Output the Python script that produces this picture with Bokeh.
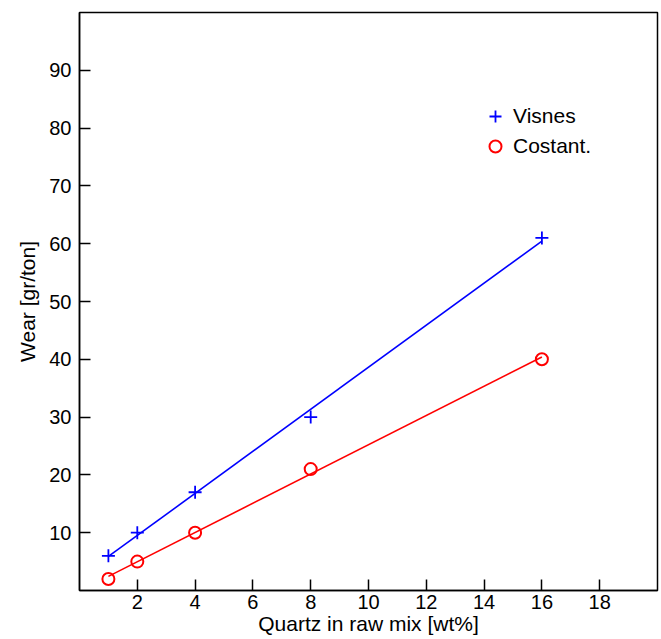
import numpy as np
from bokeh.plotting import figure
from bokeh.models import Range1d, FixedTicker, Legend, LegendItem
from bokeh.embed import file_html
from bokeh.resources import INLINE

# Data
quartz = [1, 2, 4, 8, 16]
wear_visnes = [6, 10, 17, 30, 61]
wear_costant = [2, 5, 10, 21, 40]
x_ticks = [2, 4, 6, 8, 10, 12, 14, 16, 18]
y_ticks = [10, 20, 30, 40, 50, 60, 70, 80, 90]

FONT = "Liberation Sans"

p = figure(width=661, height=639, output_backend="svg", toolbar_location=None,
           x_range=Range1d(0, 20), y_range=Range1d(0, 100),
           min_border_left=79, min_border_right=4, min_border_top=12, min_border_bottom=49)

p.xgrid.visible = False
p.ygrid.visible = False
p.outline_line_color = "black"
p.outline_line_width = 1.5
p.background_fill_color = "white"
p.border_fill_color = "white"

for ax, ticks in ((p.xaxis[0], x_ticks), (p.yaxis[0], y_ticks)):
    ax.ticker = FixedTicker(ticks=ticks)
    ax.minor_tick_line_color = None
    ax.major_tick_in = 11
    ax.major_tick_out = 0
    ax.major_tick_line_width = 1.5
    ax.axis_line_width = 1.5
    ax.major_label_text_font = FONT
    ax.major_label_text_font_size = "20px"
    ax.major_label_text_color = "black"
    ax.axis_label_text_font = FONT
    ax.axis_label_text_font_size = "21px"
    ax.axis_label_text_font_style = "normal"
    ax.axis_label_text_color = "black"

p.xaxis.axis_label = "Quartz in raw mix [wt%]"
p.yaxis.axis_label = "Wear [gr/ton]"
p.xaxis.major_label_standoff = 4
p.xaxis.axis_label_standoff = 0
p.yaxis.major_label_standoff = 8
p.yaxis.axis_label_standoff = 7

x = np.array(quartz, dtype=float)
xs = [x.min(), x.max()]
for ys, color in ((wear_visnes, "#0000ff"), (wear_costant, "#ff0000")):
    k, b = np.polyfit(x, np.array(ys, dtype=float), 1)
    p.line(xs, [k * v + b for v in xs], line_color=color, line_width=1.6)

r1 = p.scatter(quartz, wear_visnes, marker="cross", size=13, line_color="#0000ff", line_width=1.8)
r2 = p.scatter(quartz, wear_costant, marker="circle", size=12, line_color="#ff0000",
               fill_color=None, line_width=2)

legend = Legend(items=[LegendItem(label="Visnes", renderers=[r1]),
                       LegendItem(label="Costant.", renderers=[r2])],
                location=(401, 429), border_line_color=None, background_fill_alpha=0,
                padding=0, margin=0, spacing=0, glyph_width=30, glyph_height=30,
                label_height=30, label_standoff=3,
                label_text_font=FONT, label_text_font_size="21px", label_text_color="black")
p.add_layout(legend)

open("out.html", "w").write(file_html(p, INLINE))
